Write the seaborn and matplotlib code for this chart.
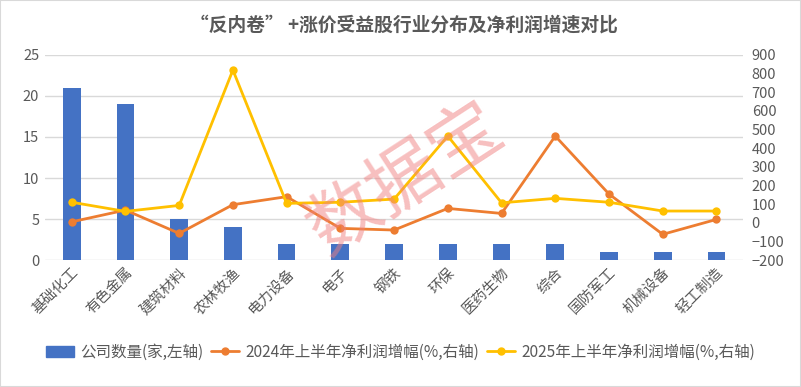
import numpy as np
import pandas as pd
import seaborn as sns
from matplotlib import pyplot as plt
from matplotlib.patches import Patch, Rectangle
from matplotlib.lines import Line2D

sns.set_style("white")
plt.rcParams['font.family'] = ['Noto Sans CJK SC', 'DejaVu Sans']

# 行业と数値
industries = ['基础化工', '有色金属', '建筑材料', '农林牧渔', '电力设备', '电子', '钢铁',
              '环保', '医药生物', '综合', '国防军工', '机械设备', '轻工制造']
company_count = [21, 19, 5, 4, 2, 2, 2, 2, 2, 2, 1, 1, 1]
growth_2024 = [5, 68, -57, 97, 140, -30, -39, 77, 50, 465, 154, -62, 18]
growth_2025 = [110, 61, 93, 819, 104, 110, 127, 465, 107, 131, 110, 63, 63]

lab_bar = '公司数量(家,左轴)'
lab_24 = '2024年上半年净利润增幅(%,右轴)'
lab_25 = '2025年上半年净利润增幅(%,右轴)'

c_bar = '#4472C4'
c_24 = '#ED7D31'
c_25 = '#FFC000'
c_txt = '#595959'

df = pd.DataFrame({'industry': industries, 'count': company_count,
                   'g24': growth_2024, 'g25': growth_2025, 'pos': np.arange(len(industries))})

fig = plt.figure(figsize=(8.01, 3.87), dpi=100)
ax = fig.add_axes([0.056, 0.328, 0.872, 0.53])

sns.barplot(data=df, x='industry', y='count', color=c_bar, width=0.33, saturation=1,
            linewidth=0, ax=ax)
ax.set_ylim(0, 25)
ax.set_yticks(range(0, 26, 5))
ax.set_xlim(-0.5, len(industries) - 0.5)
ax.grid(axis='y', color='#D9D9D9', linewidth=1)
ax.set_axisbelow(True)
ax.set_xlabel('')
ax.set_ylabel('')
for s in ax.spines.values():
    s.set_visible(False)
ax.tick_params(length=0, labelsize=10.5, colors=c_txt, pad=4)
ax.set_xticks(range(len(industries)))
ax.set_xticklabels(industries, rotation=45, ha='right', rotation_mode='anchor')

ax2 = ax.twinx()
sns.lineplot(data=df, x='pos', y='g24', color=c_24, linewidth=2, marker='o',
             markersize=6, markeredgewidth=0, ax=ax2)
sns.lineplot(data=df, x='pos', y='g25', color=c_25, linewidth=2, marker='o',
             markersize=6, markeredgewidth=0, ax=ax2)
ax2.set_ylim(-200, 900)
ax2.set_yticks(range(-200, 901, 100))
ax2.set_xlim(-0.5, len(industries) - 0.5)
ax2.set_xlabel('')
ax2.set_ylabel('')
for s in ax2.spines.values():
    s.set_visible(False)
ax2.tick_params(length=0, labelsize=10.5, colors=c_txt, pad=6)

fig.text(0.504, 0.935, '“反内卷” +涨价受益股行业分布及净利润增速对比', ha='center', va='center',
         fontsize=13.5, fontweight='bold', color=c_txt)

handles = [Patch(color=c_bar),
           Line2D([], [], color=c_24, linewidth=2, marker='o', markersize=5),
           Line2D([], [], color=c_25, linewidth=2, marker='o', markersize=5)]
leg = fig.legend(handles, [lab_bar, lab_24, lab_25], loc='center', bbox_to_anchor=(0.5, 0.09),
                 ncol=3, frameon=False, fontsize=11.2, handlelength=1.8, columnspacing=0.5,
                 handletextpad=0.4)
for t in leg.get_texts():
    t.set_color(c_txt)

# 透かし
fig.text(0.507, 0.535, '数据宝', fontsize=52, color='#F08080', alpha=0.5,
         rotation=33, ha='center', va='center')

fig.patches.append(Rectangle((0, 0), 1, 1, transform=fig.transFigure, fill=False,
                             edgecolor='#D9D9D9', linewidth=1.5))

fig.savefig('out.png', dpi=100)
